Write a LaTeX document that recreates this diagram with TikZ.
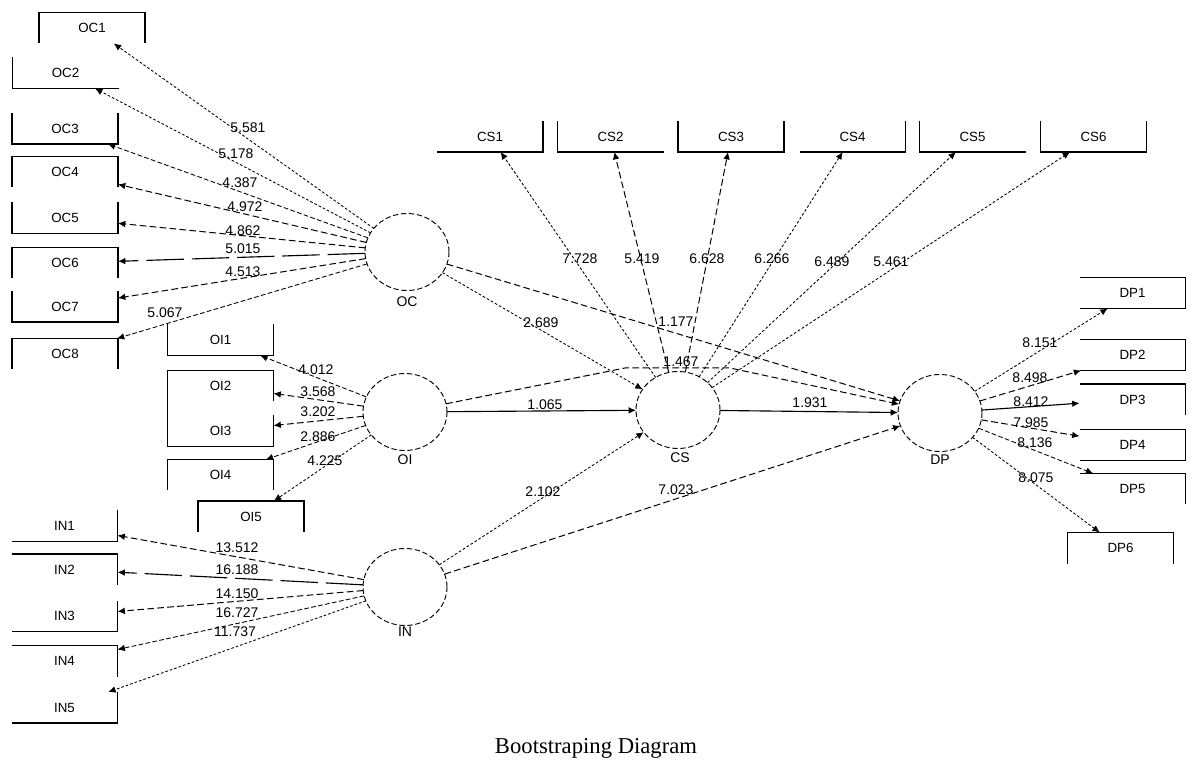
\documentclass[tikz,border=0pt]{standalone}
\usepackage{fontspec}
\setmainfont{Liberation Sans}
\newfontfamily\capfont{Liberation Serif}
\usetikzlibrary{arrows.meta,shapes.geometric}
\tikzset{
  ind/.style={minimum width=79.5pt, minimum height=23.25pt, inner sep=0pt, outer sep=0pt, font=\fontsize{10}{12}\selectfont},
  lat/.style={ellipse, draw, dash pattern=on 4pt off 2pt, line width=0.7pt, minimum width=63pt, minimum height=57.75pt, inner sep=0pt, outer sep=0pt},
  edgebox/.style={line width=1.05pt},
  spoke/.style={line width=0.65pt, dash pattern=on 3.5pt off 1.8pt, -{Latex[length=5.5pt,width=5pt]}},
  sdot/.style={line width=0.65pt, dash pattern=on 2pt off 1.5pt, -{Latex[length=5.5pt,width=5pt]}},
  sdash/.style={line width=0.75pt, dash pattern=on 5pt off 2.5pt, -{Latex[length=5.5pt,width=5pt]}},
  ssolid/.style={line width=0.85pt, -{Latex[length=5.5pt,width=5pt]}},
  lbl/.style={font=\fontsize{10.5}{12}\selectfont, inner sep=0pt},
}
\newcommand\bxTLR[1]{\draw[edgebox] (#1.south west) -- (#1.north west) -- (#1.north east) -- (#1.south east);}
\newcommand\bxLRB[1]{\draw[edgebox] (#1.north west) -- (#1.south west) -- (#1.south east) -- (#1.north east);}
\newcommand\bxLB[1]{\draw[edgebox] (#1.north west) -- (#1.south west) -- (#1.south east);}
\newcommand\bxRB[1]{\draw[edgebox] (#1.north east) -- (#1.south east) -- (#1.south west);}
\newcommand\bxTR[1]{\draw[edgebox] (#1.north west) -- (#1.north east) -- (#1.south east);}
\newcommand\bxTRB[1]{\draw[edgebox] (#1.north west) -- (#1.north east) -- (#1.south east) -- (#1.south west);}
\begin{document}
\begin{tikzpicture}[x=0.75pt,y=-0.75pt]
\useasboundingbox (0,0) rectangle (1192,762);
\fill[white] (0,0) rectangle (1192,762);

% latent variables
\node[lat] (oc) at (407,252) {};
\node[lat] (oi) at (405,412) {};
\node[lat] (in) at (405,587) {};
\node[lat] (cs) at (678,410) {};
\node[lat] (dp) at (940,413) {};
\node[lbl] (oclab) at (407,302) {OC};
\node[lbl] (oilab) at (405,460) {OI};
\node[lbl] (inlab) at (405,632) {IN};
\node[lbl] (cslab) at (680,458) {CS};
\node[lbl] (dplab) at (940,460) {DP};

% OC indicators
\node[ind] (oc1) at (92,28) {OC1};
\node[ind] (oc2) at (65.5,73) {OC2};
\node[ind] (oc3) at (65,128.5) {OC3};
\node[ind] (oc4) at (65,172) {OC4};
\node[ind] (oc5) at (65,218) {OC5};
\node[ind] (oc6) at (65,263) {OC6};
\node[ind] (oc7) at (65,306.5) {OC7};
\node[ind] (oc8) at (65,354) {OC8};
\bxTLR{oc1}\bxLB{oc2}\bxLRB{oc3}\bxTLR{oc4}\bxLRB{oc5}\bxTLR{oc6}\bxLRB{oc7}\bxTLR{oc8}

% OI indicators
\node[ind] (oi1) at (220.5,340) {OI1};
\node[ind] (oi2) at (220.5,386) {OI2};
\node[ind] (oi3) at (220.5,431) {OI3};
\node[ind] (oi4) at (220.5,475) {OI4};
\node[ind] (oi5) at (251,516.5) {OI5};
\bxLRB{oi1}\bxTLR{oi2}\bxLRB{oi3}\bxTLR{oi4}\bxTLR{oi5}
\draw[edgebox] (oi2.south west) -- (oi3.north west);

% IN indicators
\node[ind] (in1) at (64.5,526) {IN1};
\node[ind] (in2) at (64.5,569.5) {IN2};
\node[ind] (in3) at (64.5,616) {IN3};
\node[ind] (in4) at (64.5,661) {IN4};
\node[ind] (in5) at (64.5,707.5) {IN5};
\bxRB{in1}\bxTR{in2}\bxRB{in3}\bxTR{in4}\bxRB{in5}

% CS indicators
\node[ind] (cs1) at (490,136.5) {CS1};
\node[ind] (cs2) at (610.5,136.5) {CS2};
\node[ind] (cs3) at (731,136.5) {CS3};
\node[ind] (cs4) at (852.5,136.5) {CS4};
\node[ind] (cs5) at (972.5,136.5) {CS5};
\node[ind] (cs6) at (1093.5,136.5) {CS6};
\bxRB{cs1}\bxLB{cs2}\bxLRB{cs3}\bxRB{cs4}\bxLB{cs5}\bxLRB{cs6}

% DP indicators
\node[ind] (dp1) at (1132.5,293) {DP1};
\node[ind] (dp2) at (1132.5,355) {DP2};
\node[ind] (dp3) at (1132.5,399.5) {DP3};
\node[ind] (dp4) at (1132.5,445) {DP4};
\node[ind] (dp5) at (1132.5,489) {DP5};
\node[ind] (dp6) at (1120.5,548) {DP6};
\bxTRB{dp1}\bxTRB{dp2}\bxTR{dp3}\bxTRB{dp4}\bxTR{dp5}\bxTLR{dp6}

% spokes
\draw[sdot] (oc) -- (oc1);
\draw[sdot] (oc) -- (oc2);
\draw[spoke] (oc) -- (oc3);
\draw[sdash] (oc) -- (oc4);
\draw[sdash] (oc) -- (oc5);
\draw[ssolid, dash pattern=on 28pt off 6pt] (oc) -- (oc6);
\draw[sdash] (oc) -- (oc7);
\draw[spoke] (oc) -- (oc8);

\draw[spoke] (oi) -- (oi1);
\draw[sdash] (oi) -- (oi2);
\draw[sdash] (oi) -- (oi3);
\draw[spoke] (oi) -- (oi4);
\draw[sdot] (oi) -- (oi5);

\draw[sdash] (in) -- (in1);
\draw[ssolid, dash pattern=on 28pt off 6pt] (in) -- (in2);
\draw[sdash] (in) -- (in3);
\draw[spoke] (in) -- (in4);
\draw[sdot] (in) -- (in5);

\draw[sdot] (cs) -- (cs1);
\draw[sdash] (cs) -- (cs2);
\draw[sdash] (cs) -- (cs3);
\draw[sdot] (cs) -- (cs4);
\draw[sdot] (cs) -- (cs5);
\draw[sdot] (cs) -- (cs6);

\draw[sdot] (dp) -- (dp1);
\draw[sdash] (dp) -- (dp2);
\draw[ssolid] (dp) -- (dp3);
\draw[sdash] (dp) -- (dp4);
\draw[spoke] (dp) -- (dp5);
\draw[sdot] (dp) -- (dp6);

% structural paths
\coordinate (bA) at (625,368);
\coordinate (bB) at (730,368);
\draw[sdot] (oc) -- (cs);
\draw[sdash] (oc) -- (dp);
\draw[ssolid] (oi) -- (cs);
\draw[sdash] (oi) -- (bA) -- (bB) -- (dp);
\draw[ssolid] (cs) -- (dp);
\draw[sdot] (in) -- (cs);
\draw[sdash] (in) -- (dp);

% outer loading labels
\node[lbl] (l1) at (248,128) {5.581};
\node[lbl] (l2) at (236,154) {5.178};
\node[lbl] (l3) at (240,183) {4.387};
\node[lbl] (l4) at (245,207) {4.972};
\node[lbl] (l5) at (243,231) {4.862};
\node[lbl] (l6) at (243,249) {5.015};
\node[lbl] (l7) at (243,272) {4.513};
\node[lbl] (l8) at (165,313) {5.067};

\node[lbl] (m1) at (316,370) {4.012};
\node[lbl] (m2) at (318,392) {3.568};
\node[lbl] (m3) at (318,412) {3.202};
\node[lbl] (m4) at (318,437) {2.886};
\node[lbl] (m5) at (325,461) {4.225};

\node[lbl] (n1) at (237,548) {13.512};
\node[lbl] (n2) at (237,570) {16.188};
\node[lbl] (n3) at (237,594) {14.150};
\node[lbl] (n4) at (237,613) {16.727};
\node[lbl] (n5) at (235,632) {11.737};

\node[lbl] (c1) at (580,259) {7.728};
\node[lbl] (c2) at (642,259) {5.419};
\node[lbl] (c3) at (707,259) {6.628};
\node[lbl] (c4) at (772,259) {6.266};
\node[lbl] (c5) at (832,262) {6.489};
\node[lbl] (c6) at (891,262) {5.461};

\node[lbl] (d1) at (1040,343) {8.151};
\node[lbl] (d2) at (1030,378) {8.498};
\node[lbl] (d3) at (1031,402) {8.412};
\node[lbl] (d4) at (1031,423) {7.985};
\node[lbl] (d5) at (1035,443) {8.136};
\node[lbl] (d6) at (1036,478) {8.075};

% structural labels
\node[lbl] (s1) at (541,323) {2.689};
\node[lbl] (s2) at (676,322) {1.177};
\node[lbl] (s3) at (681,362) {1.467};
\node[lbl] (s4) at (545,405) {1.065};
\node[lbl] (s5) at (810,403) {1.931};
\node[lbl] (s6) at (543,492) {2.102};
\node[lbl] (s7) at (676,490) {7.023};

\node[font=\capfont\fontsize{17}{20}\selectfont, inner sep=0pt] (cap) at (596,748) {Bootstraping Diagram};
\end{tikzpicture}
\end{document}
